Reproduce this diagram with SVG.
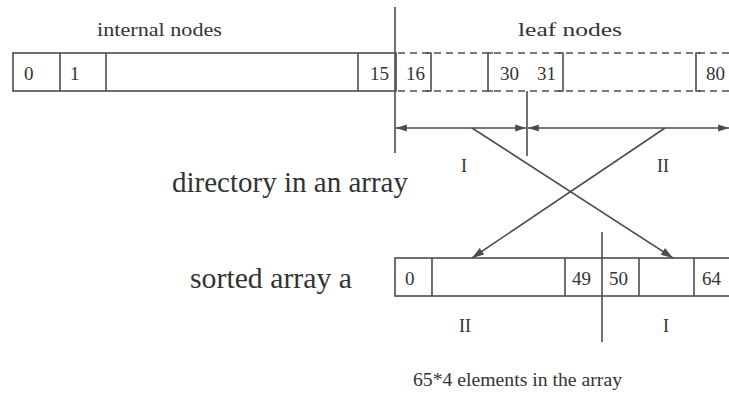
<svg xmlns="http://www.w3.org/2000/svg" width="729" height="396" viewBox="0 0 729 396">
  <defs>
    <style>
      .ln { stroke: #4d4d4d; stroke-width: 1.6; fill: none; }
      .dash { stroke: #4d4d4d; stroke-width: 1.6; fill: none; stroke-dasharray: 7 5; }
      .box { stroke: #4d4d4d; stroke-width: 1.6; fill: #ffffff; }
      .t { font-family: "Liberation Serif", "DejaVu Serif", serif; fill: #333333; }
      .cell { font-size: 19px; }
      .cap { font-size: 18px; }
      .roman { font-size: 18px; }
      .big { font-size: 29px; }
    </style>
    <marker id="ah" viewBox="0 0 12 10" refX="12" refY="5" markerWidth="12" markerHeight="9" markerUnits="userSpaceOnUse" orient="auto-start-reverse">
      <path d="M0,1 L12,5 L0,9 Z" fill="#4d4d4d"/>
    </marker>
    <marker id="ahl" viewBox="0 0 12 10" refX="12" refY="5" markerWidth="13" markerHeight="10" markerUnits="userSpaceOnUse" orient="auto">
      <path d="M0,1 L12,5 L0,9 Z" fill="#4d4d4d"/>
    </marker>
  </defs>
  <rect width="729" height="396" fill="#ffffff"/>

  <!-- captions -->
  <text class="t cap" x="97" y="36" textLength="125" lengthAdjust="spacingAndGlyphs">internal nodes</text>
  <text class="t cap" x="518" y="36" textLength="104" lengthAdjust="spacingAndGlyphs">leaf nodes</text>
  <text class="t big" x="172" y="192" textLength="236" lengthAdjust="spacingAndGlyphs">directory in an array</text>
  <text class="t big" x="190" y="288" textLength="162" lengthAdjust="spacingAndGlyphs">sorted array a</text>
  <text class="t cap" x="413" y="386" textLength="209" lengthAdjust="spacingAndGlyphs">65*4 elements in the array</text>

  <!-- directory array -->
  <g id="directory">
    <rect class="box" x="13" y="53" width="383" height="38"/>
    <line class="ln" x1="60" y1="53" x2="60" y2="91"/>
    <line class="ln" x1="106" y1="53" x2="106" y2="91"/>
    <line class="ln" x1="358" y1="53" x2="358" y2="91"/>
    <text class="t cell" x="24" y="80">0</text>
    <text class="t cell" x="70" y="80">1</text>
    <text class="t cell" x="370" y="80">15</text>
    <!-- leaf part, dashed -->
    <line class="dash" x1="398" y1="53" x2="729" y2="53"/>
    <line class="dash" x1="398" y1="91" x2="729" y2="91"/>
    <path class="ln" d="M426,53 H431 V91 H426"/>
    <path class="ln" d="M493,53 H488 V91 H493"/>
    <path class="ln" d="M558,53 H563 V91 H558"/>
    <path class="ln" d="M701,53 H696 V91 H701"/>
    <text class="t cell" x="406" y="80">16</text>
    <text class="t cell" x="500" y="80">30</text>
    <text class="t cell" x="537" y="80">31</text>
    <text class="t cell" x="706" y="80">80</text>
  </g>

  <!-- sorted array -->
  <g id="sorted">
    <rect class="box" x="395" y="258" width="340" height="38"/>
    <line class="ln" x1="432" y1="258" x2="432" y2="296"/>
    <line class="ln" x1="565" y1="258" x2="565" y2="296"/>
    <line class="ln" x1="639" y1="258" x2="639" y2="296"/>
    <line class="ln" x1="694" y1="258" x2="694" y2="296"/>
    <text class="t cell" x="405" y="285">0</text>
    <text class="t cell" x="572" y="285">49</text>
    <text class="t cell" x="609" y="285">50</text>
    <text class="t cell" x="702" y="285">64</text>
  </g>

  <!-- region labels -->
  <g id="labels">
    <text class="t roman" x="461" y="172">I</text>
    <text class="t roman" x="657" y="172">II</text>
    <text class="t roman" x="459" y="332">II</text>
    <text class="t roman" x="663" y="332">I</text>
  </g>

  <!-- connectors -->
  <g id="connectors">
    <line class="ln" x1="395" y1="7" x2="395" y2="153"/>
    <line class="ln" x1="527" y1="91" x2="527" y2="156"/>
    <line class="ln" x1="602" y1="232" x2="602" y2="342"/>
    <line class="ln" x1="396" y1="128" x2="526" y2="128" marker-start="url(#ah)" marker-end="url(#ah)"/>
    <line class="ln" x1="528" y1="128" x2="729" y2="128" marker-start="url(#ah)" marker-end="url(#ah)"/>
    <line class="ln" x1="472" y1="128" x2="673" y2="258" marker-end="url(#ahl)"/>
    <line class="ln" x1="665" y1="128" x2="472" y2="258" marker-end="url(#ahl)"/>
  </g>
</svg>
